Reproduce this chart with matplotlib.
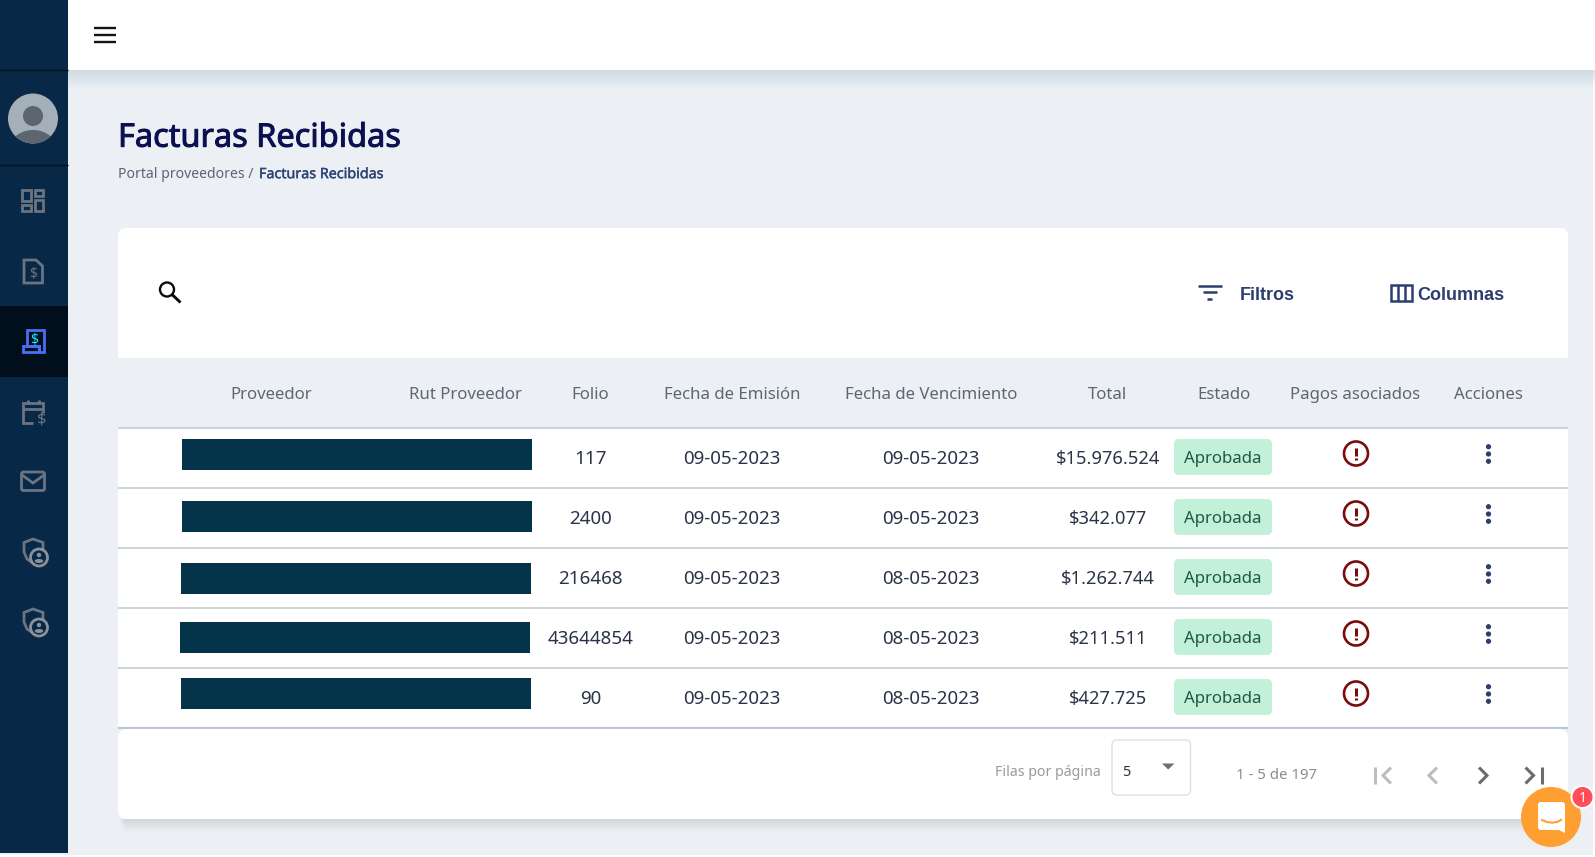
import matplotlib
matplotlib.use("Agg")
import matplotlib.pyplot as plt
import matplotlib.patheffects as pe
from matplotlib.patches import Circle, Ellipse, FancyBboxPatch, Polygon, Rectangle

plt.rcParams["font.family"] = ["Noto Sans", "DejaVu Sans"]

W, H = 1595, 857

headers = ["Proveedor", "Rut Proveedor", "Folio", "Fecha de Emisión", "Fecha de Vencimiento",
           "Total", "Estado", "Pagos asociados", "Acciones"]
folios = ["117", "2400", "216468", "43644854", "90"]
emision = ["09-05-2023"] * 5
vencimiento = ["09-05-2023", "09-05-2023", "08-05-2023", "08-05-2023", "08-05-2023"]
totales = ["$15.976.524", "$342.077", "$1.262.744", "$211.511", "$427.725"]
estados = ["Aprobada"] * 5

SIDE = "#072846"
SIDE_ACTIVE = "#010e1c"
PAGE = "#ecf0f5"
NAVY = "#2c3e6e"
ICON = "#6b7480"
HEAD_X = [271, 465.5, 590.5, 732, 931, 1108, 1224, 1355, 1488]
ROW_TOP = 428
ROW_H = 60
REDACT = [(182, 439), (182, 501), (181, 563), (180, 622), (181, 678)]

fig = plt.figure(figsize=(W / 100, H / 100), dpi=100)
ax = fig.add_axes([0, 0, 1, 1])
ax.set_xlim(0, W)
ax.set_ylim(H, 0)
ax.axis("off")


def rect(x, y, w, h, color, z=1, **kw):
    ax.add_patch(Rectangle((x, y), w, h, facecolor=color, edgecolor="none", zorder=z, **kw))


def round_box(x, y, w, h, r, face, edge="none", lw=0, z=2):
    ax.add_patch(FancyBboxPatch((x, y), w, h, boxstyle=f"round,pad=0,rounding_size={r}",
                                facecolor=face, edgecolor=edge, linewidth=lw, zorder=z))


def line(xs, ys, color, lw=1.5, z=5, cap="butt"):
    ax.plot(xs, ys, color=color, linewidth=lw, zorder=z, solid_capstyle=cap, solid_joinstyle="miter")


def outline(x, y, w, h, color, lw=1.5, z=5):
    ax.add_patch(Rectangle((x, y), w, h, facecolor="none", edgecolor=color, linewidth=lw, zorder=z))


def label(x, y, s, size=13.5, color="#2a3347", ha="center", weight="normal", z=6, **kw):
    # baseline placement keeps the "$" strings level with the digits
    return ax.text(x, y + size * 100 / 72 * 0.36, s, fontsize=size, color=color, ha=ha, va="baseline",
                   fontweight=weight, zorder=z, **kw)


def shield_icon(cy):
    ax.add_patch(Polygon([(33, cy - 12), (43, cy - 8.5), (43, cy + 1), (38, cy + 9), (33, cy + 12),
                          (27, cy + 8), (24, cy + 1), (24, cy - 8.5)],
                         closed=True, facecolor="none", edgecolor=ICON, linewidth=2, zorder=5))
    ax.add_patch(Circle((39, cy + 6.5), 8.5, facecolor=SIDE, edgecolor="#8b919a", linewidth=2, zorder=6))
    ax.add_patch(Circle((39, cy + 4), 2.2, facecolor="#8b919a", zorder=7))
    ax.add_patch(Ellipse((39, cy + 10), 8.5, 4, facecolor="#8b919a", zorder=7))


def chevron(cx, cy, direction, color):
    line([cx - 4 * direction, cx + 4 * direction, cx - 4 * direction],
         [cy - 8, cy, cy + 8], color, lw=2.2, z=6)


# background
fig.patch.set_facecolor("white")
rect(0, 0, 1593, 855, PAGE, z=0)

# navbar with its shadow
for i in range(1, 19):
    rect(68, 70, 1527, i, "#5a6b85", z=1, alpha=0.009)
rect(68, 0, 1527, 70, "white", z=2)
line([93.5, 115.5], [27.7, 27.7], "#141414", lw=1.7)
line([93.5, 115.5], [34.7, 34.7], "#141414", lw=1.7)
line([93.5, 115.5], [41.7, 41.7], "#141414", lw=1.7)

# sidebar
rect(0, 0, 68, 853, SIDE, z=3)
rect(0, 306, 68, 71, SIDE_ACTIVE, z=4)
line([0, 68], [70, 70], "#02101f", lw=1)
line([0, 68], [165, 165], "#02101f", lw=1)

avatar = Circle((33, 118.5), 25, facecolor="#a4afb9", zorder=5)
ax.add_patch(avatar)
ax.add_patch(Circle((33, 116), 10, facecolor="#5b6670", zorder=6))
body = Ellipse((33, 148), 46, 36, facecolor="#5b6670", zorder=6)
ax.add_patch(body)
body.set_clip_path(avatar)

# dashboard icon
outline(22, 190, 8.5, 11, ICON, lw=2)
outline(34.7, 190, 8.5, 5.5, ICON, lw=2)
outline(22, 205.2, 8.5, 5.5, ICON, lw=2)
outline(34.7, 200.2, 8.5, 10.5, ICON, lw=2)

# invoice icon
ax.add_patch(Polygon([(24, 260), (36, 260), (42.5, 266), (42.5, 283), (24, 283)], closed=True,
                     facecolor="none", edgecolor=ICON, linewidth=2, zorder=5))
label(33, 273, "$", size=10, color=ICON, weight="bold")

# active receipt icon
ax.add_patch(Polygon([(27, 330), (44, 330), (44, 352), (23, 352), (23, 346), (39, 346), (39, 352),
                      (39, 346), (27, 346)], closed=True, facecolor="none", edgecolor="#4c6ef2",
                     linewidth=2, zorder=5))
label(34.5, 339, "$", size=10, color="#19e5ff", weight="bold")

# calendar icon
line([33, 23, 23, 43, 43], [423, 423, 403, 403, 413], ICON, lw=2)
line([23, 43], [409, 409], ICON, lw=2)
line([28, 28], [399.5, 404], ICON, lw=2)
line([39, 39], [399.5, 404], ICON, lw=2)
label(41.5, 417, "$", size=12, color=ICON, weight="bold")

# mail icon
round_box(21.5, 472, 23, 18.5, 2, "none", edge=ICON, lw=2, z=5)
line([22, 33, 44], [475, 483, 475], ICON, lw=2)

shield_icon(551)
shield_icon(621)

# page title, thin stroke stands in for the medium weight
title = label(118, 135, "Facturas Recibidas", size=23.4, color="#0b1050", ha="left")
title.set_path_effects([pe.withStroke(linewidth=0.7, foreground="#0b1050")])
label(118, 173, "Portal proveedores /", size=10.1, color="#5c6477", ha="left")
crumb = label(259, 173, "Facturas Recibidas", size=10.3, color="#2f4578", ha="left")
crumb.set_path_effects([pe.withStroke(linewidth=0.3, foreground="#2f4578")])

# toolbar card
round_box(118, 228, 1450, 140, 8, "white", z=2)
rect(118, 358, 1450, 14, PAGE, z=2)
ax.add_patch(Circle((167, 289.5), 7, facecolor="none", edgecolor="#0a0a0a", linewidth=1.7, zorder=5))
line([172, 180.5], [294.5, 302.5], "#0a0a0a", lw=2.1)
line([1197.5, 1221.5], [285.5, 285.5], NAVY, lw=1.8)
line([1202.5, 1216.5], [292.2, 292.2], NAVY, lw=1.8)
line([1207, 1212], [299, 299], NAVY, lw=1.8)
label(1240, 293, "Filtros", size=13, color=NAVY, ha="left", weight="bold", family="Liberation Sans")
outline(1391, 284.5, 21, 16, NAVY, lw=1.8)
line([1398, 1398], [284.5, 300.5], NAVY, lw=1.8)
line([1405, 1405], [284.5, 300.5], NAVY, lw=1.8)
label(1417, 293, "Columnas", size=13, color=NAVY, ha="left", weight="bold", family="Liberation Sans")

# table header
for x, name in zip(HEAD_X, headers):
    label(x, 393, name, size=12.1, color="#5e6675")

# table rows
rect(118, ROW_TOP, 1450, ROW_H * len(folios), "white", z=2)
for i in range(len(folios)):
    y = ROW_TOP + ROW_H * i
    mid = y + 29.5
    line([118, 1568], [y, y], "#c3ccd6", lw=1.2, z=3)
    rx, ry = REDACT[i]
    rect(rx, ry, 350, 30.5, "#03344a", z=4)
    label(HEAD_X[2], mid, folios[i])
    label(HEAD_X[3], mid, emision[i])
    label(HEAD_X[4], mid, vencimiento[i])
    label(HEAD_X[5], mid, totales[i], size=13.2)
    round_box(1174, y + 11, 98, 36, 5, "#c3f0d8", z=4)
    label(1223, y + 29, estados[i], size=12.1, color="#1f5b40")
    ax.add_patch(Circle((1356, y + 25.5), 12, facecolor="none", edgecolor="#7a0c0c", linewidth=1.9, zorder=5))
    line([1356, 1356], [y + 19.5, y + 27.5], "#7a0c0c", lw=2.2)
    line([1356, 1356], [y + 29.5, y + 31.5], "#7a0c0c", lw=2.2)
    for dy in (18.7, 26, 33.3):
        ax.add_patch(Circle((1488.5, y + dy), 2.6, facecolor=NAVY, zorder=5))

# footer card
for i in range(1, 14):
    rect(118 + i * 0.5, 819, 1450 - i, i, "#5a6b85", z=1, alpha=0.012)
line([118, 1568], [728, 728], "#bcc7d2", lw=1.6, z=3)
round_box(118, 729, 1450, 90, 9, "white", z=4)
label(995, 771, "Filas por página", size=10.2, color="#9a9a9a", ha="left")
round_box(1112, 740, 78.5, 55, 5, "white", edge="#e0e0e0", lw=1, z=5)
label(1122, 771, "5", size=10.5, color="#333333", ha="left")
ax.add_patch(Polygon([(1162, 763.5), (1174.5, 763.5), (1168.2, 769.5)], closed=True, facecolor="#6f6f6f", zorder=6))
label(1276.5, 774, "1 - 5 de 197", size=10.8, color="#8c8c8c")
line([1374.5, 1374.5], [767, 784], "#bdbdbd", lw=2.2, z=6)
chevron(1387, 775.5, -1, "#bdbdbd")
chevron(1433, 775.5, -1, "#bdbdbd")
chevron(1483, 775.5, 1, "#6b6b6b")
chevron(1529.5, 775.5, 1, "#6b6b6b")
line([1541.5, 1541.5], [767, 784], "#6b6b6b", lw=2.2, z=6)

# chat button
ax.add_patch(Circle((1551, 817), 30, facecolor="#ff9f32", zorder=8))
round_box(1538, 802, 27, 28, 3, "white", z=9)
ax.add_patch(Polygon([(1555, 828), (1565, 828), (1565, 833)], closed=True, facecolor="white", zorder=9))
ax.plot([1542, 1547, 1552, 1557, 1561], [820, 822, 822.7, 822, 820], color="#ff9f32", linewidth=1.5, zorder=10)
ax.add_patch(Circle((1582.5, 797), 12, facecolor="white", zorder=10))
ax.add_patch(Circle((1582.5, 797), 10, facecolor="#ff4d5a", zorder=11))
label(1582.5, 797, "1", size=10, color="white", weight="bold", z=12)

fig.savefig("out.png", dpi=100)
plt.close(fig)
